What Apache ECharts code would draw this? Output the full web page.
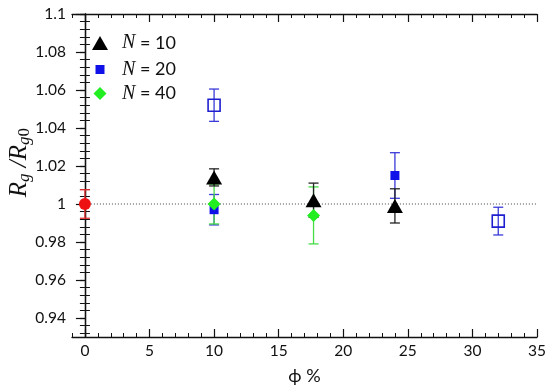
<!DOCTYPE html>
<html>
<head>
<meta charset="utf-8">
<script src="https://cdn.jsdelivr.net/npm/echarts@6/dist/echarts.min.js"></script>
<style>html,body{margin:0;padding:0;background:#fff}#c{width:550px;height:391px}</style>
</head>
<body>
<div id="c"></div>
<script>
// ---- data ----
const n10Phi = [10, 17.7, 24];
const n10Val = [1.014, 1.002, 0.999];
const n10Err = [0.0045, 0.009, 0.009];

const n20Phi = [10, 24];
const n20Val = [0.997, 1.015];
const n20Err = [0.008, 0.012];

const n40Phi = [10, 17.7];
const n40Val = [1.000, 0.994];
const n40Err = [0.0105, 0.015];

const refPhi = [0];
const refVal = [1.000];
const refErr = [0.0075];

const openPhi = [10, 32];
const openVal = [1.052, 0.991];
const openErr = [0.0085, 0.0073];

const refLinePhi = [0, 35];
const refLineVal = [1, 1];

const xMajorTicks = [0, 5, 10, 15, 20, 25, 30, 35];
const yMajorTicks = [0.94, 0.96, 0.98, 1, 1.02, 1.04, 1.06, 1.08, 1.1];

// ---- helpers ----
const xMinorTicks = [];
for (let i = -1; i <= 35; i++) if (i % 5 !== 0) xMinorTicks.push(i);
const yMinorTicks = [];
for (let k = -2; k <= 40; k++) {
  if (k % 5 === 0) continue;
  const v = Math.round((0.94 + 0.004 * k) * 10000) / 10000;
  if (v >= 0.93 && v <= 1.1) yMinorTicks.push(v);
}
const pts = (xs, ys) => xs.map((x, i) => [x, ys[i]]);
const errPts = (xs, ys, es) => xs.map((x, i) => [x, ys[i], es[i]]);

function errSeries(data, color, z) {
  return {
    type: 'custom', xAxisIndex: 0, yAxisIndex: 0, z: z, silent: true,
    data: data,
    renderItem: function (params, api) {
      const x = api.value(0), y = api.value(1), e = api.value(2);
      const t = api.coord([x, y + e]);
      const b = api.coord([x, y - e]);
      const hw = 5;
      const st = { stroke: color, lineWidth: 1.3 };
      return {
        type: 'group',
        children: [
          { type: 'line', shape: { x1: t[0], y1: t[1], x2: b[0], y2: b[1] }, style: st },
          { type: 'line', shape: { x1: t[0] - hw, y1: t[1], x2: t[0] + hw, y2: t[1] }, style: st },
          { type: 'line', shape: { x1: b[0] - hw, y1: b[1], x2: b[0] + hw, y2: b[1] }, style: st }
        ]
      };
    }
  };
}

const labelFont = { fontFamily: 'Lato', fontSize: 15.5, color: '#111' };
const axisLineStyle = { lineStyle: { color: '#111', width: 1.3 } };

const xBase = { type: 'value', min: -1, max: 35, splitLine: { show: false }, gridIndex: 0 };
const yBase = { type: 'value', min: 0.93, max: 1.1, splitLine: { show: false }, gridIndex: 0 };

const chart = echarts.init(document.getElementById('c'), null, { renderer: 'canvas' });

const legendRich = {
  i: { fontFamily: 'Liberation Serif', fontStyle: 'italic', fontSize: 20, color: '#111' },
  t: { fontFamily: 'Lato', fontSize: 18, color: '#111' }
};
function mkLegend(name, top, w, h) {
  return {
    data: [name], left: 100 - w / 2, top: top - h / 2, itemWidth: w, itemHeight: h, itemGap: 0,
    selectedMode: false, padding: 0,
    itemStyle: { opacity: 1 },
    textStyle: { rich: legendRich, padding: [0, 0, 0, 17 - w / 2] },
    formatter: function (n) { return '{i|N}{t| = ' + n.split('=')[1].trim() + '}'; }
  };
}

chart.setOption({
  animation: false,
  grid: { left: 72, right: 13, top: 14, bottom: 54 },
  legend: [
    mkLegend('N = 10', 40, 16, 14),
    mkLegend('N = 20', 64, 9, 9),
    mkLegend('N = 40', 90, 13, 13)
  ],
  xAxis: [
    Object.assign({}, xBase, {
      position: 'bottom',
      axisLine: axisLineStyle,
      axisTick: { inside: true, length: 8, customValues: xMajorTicks, lineStyle: { color: '#111', width: 1.2 } },
      axisLabel: Object.assign({ customValues: xMajorTicks, margin: 6 }, labelFont),
      name: 'ϕ %', nameLocation: 'middle', nameGap: 30,
      nameTextStyle: { fontFamily: 'Lato', fontSize: 18, color: '#111' }
    }),
    Object.assign({}, xBase, {
      position: 'bottom', axisLine: { show: false },
      axisTick: { inside: true, length: 4, customValues: xMinorTicks, lineStyle: { color: '#111', width: 1 } },
      axisLabel: { show: false }
    }),
    Object.assign({}, xBase, {
      position: 'top', axisLine: axisLineStyle,
      axisTick: { inside: true, length: 8, customValues: xMajorTicks, lineStyle: { color: '#111', width: 1.2 } },
      axisLabel: { show: false }
    }),
    Object.assign({}, xBase, {
      position: 'top', axisLine: { show: false },
      axisTick: { inside: true, length: 4, customValues: xMinorTicks, lineStyle: { color: '#111', width: 1 } },
      axisLabel: { show: false }
    })
  ],
  yAxis: [
    Object.assign({}, yBase, {
      position: 'left', axisLine: axisLineStyle,
      axisTick: { inside: false, length: 5, customValues: yMajorTicks, lineStyle: { color: '#111', width: 1.2 } },
      axisLabel: Object.assign({ customValues: yMajorTicks, margin: 6,
        formatter: function (v) { return String(Math.round(v * 100) / 100); } }, labelFont)
    }),
    Object.assign({}, yBase, {
      position: 'left', axisLine: { show: false },
      axisTick: { inside: true, length: 5, customValues: yMinorTicks, lineStyle: { color: '#111', width: 1 } },
      axisLabel: { show: false }
    }),
    Object.assign({}, yBase, {
      position: 'right', axisLine: axisLineStyle,
      axisTick: { inside: true, length: 9, customValues: yMajorTicks, lineStyle: { color: '#111', width: 1.2 } },
      axisLabel: { show: false }
    }),
    Object.assign({}, yBase, {
      position: 'right', axisLine: { show: false },
      axisTick: { inside: true, length: 5, customValues: yMinorTicks, lineStyle: { color: '#111', width: 1 } },
      axisLabel: { show: false }
    })
  ],
  graphic: [{
    type: 'text', left: 4, top: 128, rotation: Math.PI / 2,
    style: {
      text: '{r|R}{s|g}{r| /R}{s|g}{u|0}',
      rich: {
        r: { fontFamily: 'Liberation Serif', fontStyle: 'italic', fontSize: 25, lineHeight: 26, verticalAlign: 'top', fill: '#111' },
        s: { fontFamily: 'Liberation Serif', fontStyle: 'italic', fontSize: 17, lineHeight: 16, verticalAlign: 'bottom', padding: [12, 0, 0, 0], fill: '#111' },
        u: { fontFamily: 'Liberation Serif', fontSize: 17, lineHeight: 16, verticalAlign: 'bottom', padding: [12, 0, 0, 0], fill: '#111' }
      }
    }
  }],
  series: [
    { type: 'line', name: 'ref', xAxisIndex: 0, yAxisIndex: 0, data: pts(refLinePhi, refLineVal), symbol: 'none',
      lineStyle: { color: '#444', width: 1, type: [1, 2] }, z: 1, silent: true },
    errSeries(errPts(refPhi, refVal, refErr), '#e83030', 2),
    errSeries(errPts(openPhi, openVal, openErr), '#3a3ad8', 2),
    errSeries(errPts(n20Phi, n20Val, n20Err), '#3a3ad8', 2),
    errSeries(errPts(n40Phi, n40Val, n40Err), '#44dd44', 3),
    errSeries(errPts(n10Phi, n10Val, n10Err), '#222', 3),
    { type: 'scatter', name: 'ref0', data: pts(refPhi, refVal), symbol: 'circle', symbolSize: 12,
      itemStyle: { color: '#ee1111', opacity: 1 }, z: 5 },
    { type: 'scatter', name: 'open', data: pts(openPhi, openVal), symbol: 'rect', symbolSize: 12,
      itemStyle: { color: 'rgba(255,255,255,0)', borderColor: '#1f1fd0', borderWidth: 1.6, opacity: 1 }, z: 5 },
    { type: 'scatter', name: 'N = 20', data: pts(n20Phi, n20Val), symbol: 'rect', symbolSize: 9,
      itemStyle: { color: '#1010e8', opacity: 1 }, z: 5 },
    { type: 'scatter', name: 'N = 40', data: pts(n40Phi, n40Val), symbol: 'diamond', symbolSize: [13, 13],
      itemStyle: { color: '#22ee22', opacity: 1 }, z: 6 },
    { type: 'scatter', name: 'N = 10', data: pts(n10Phi, n10Val), symbol: 'triangle', symbolSize: [16, 14],
      itemStyle: { color: '#000', opacity: 1 }, z: 7 }
  ]
});
</script>
</body>
</html>
